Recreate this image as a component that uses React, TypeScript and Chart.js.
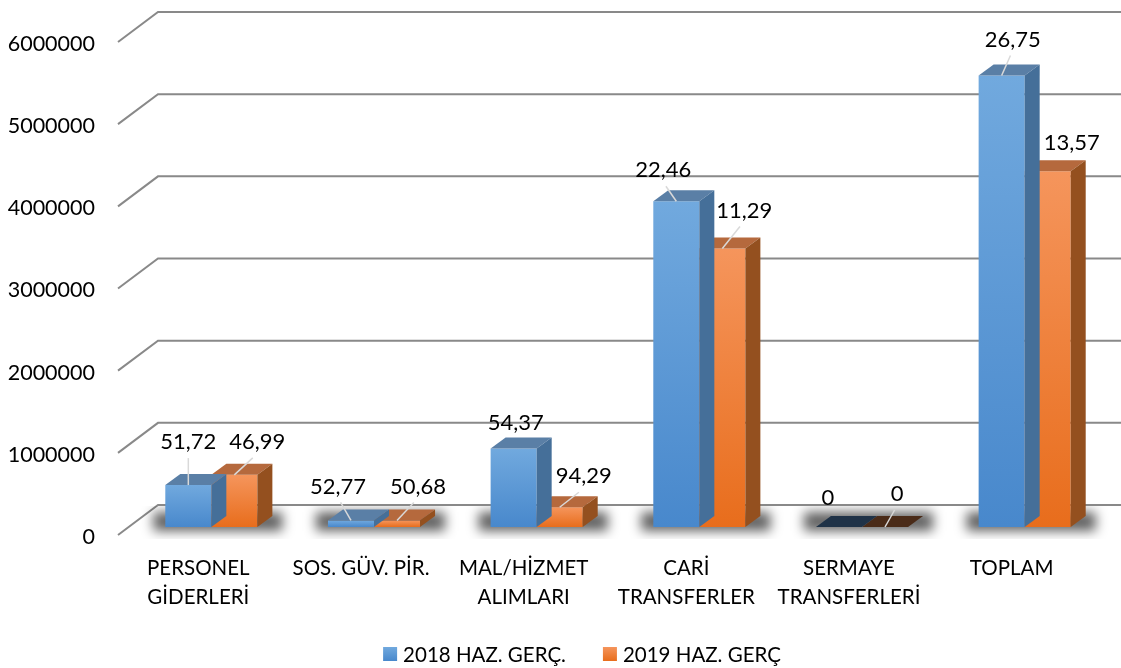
import React, { useEffect, useRef } from 'react';
import { Chart, registerables } from 'chart.js';

Chart.register(...registerables);

// ---- data ----
const categories: string[][] = [
  ['PERSONEL', 'GİDERLERİ'],
  ['SOS. GÜV. PİR.'],
  ['MAL/HİZMET', 'ALIMLARI'],
  ['CARİ', 'TRANSFERLER'],
  ['SERMAYE', 'TRANSFERLERİ'],
  ['TOPLAM'],
];
const seriesNames = ['2018 HAZ. GERÇ.', '2019 HAZ. GERÇ'];
const values2018 = [510000, 80000, 955000, 3965000, 0, 5495000];
const values2019 = [635000, 80000, 240000, 3390000, 0, 4330000];
const labels2018 = ['51,72', '52,77', '54,37', '22,46', '0', '26,75'];
const labels2019 = ['46,99', '50,68', '94,29', '11,29', '0', '13,57'];
const yTicks = [0, 1000000, 2000000, 3000000, 4000000, 5000000, 6000000];

// ---- label placement (relative to bar top centre) ----
const nudge2018 = [[0, -43], [-13, -34], [2, -26], [-13, -31], [-11, -29], [11, -36]];
const nudge2019 = [[23, -33], [21, -34], [24, -31], [22, -38], [12, -33], [24, -28]];
const leader2018 = [true, true, false, true, false, true];
const leader2019 = [true, true, true, true, true, false];

const FONT = 'Lato, "Open Sans", sans-serif';
const DX = 15;
const DY = -11;
const FRONT_DY = 8;
const BACK_DY = -22;
const FRONT_X = 118;
const BACK_X = 158;

const frontLight = ['#71a9de', '#f5955c'];
const frontDark = ['#4888cc', '#e86d1c'];
const topColor = ['#5a7fa6', '#b5693d'];
const sideColor = ['#456f99', '#94501f'];
const zeroTop = ['#1f3247', '#4a2b18'];

const ok = (...n: number[]) => n.every((v) => Number.isFinite(v));

export default function App() {
  const ref = useRef<HTMLCanvasElement>(null);

  useEffect(() => {
    document.body.style.margin = '0';
    const canvas = ref.current!;
    const allValues = [values2018, values2019];
    const allLabels = [labels2018, labels2019];
    const allNudges = [nudge2018, nudge2019];
    const allLeaders = [leader2018, leader2019];

    const grad = (i: number) => (c: any) => {
      const chart = c.chart;
      const y = chart.scales && chart.scales.y;
      if (!y || c.raw == null) return frontDark[i];
      const t = y.getPixelForValue(c.raw);
      const b = y.getPixelForValue(0);
      if (!ok(t, b) || b - t < 1) return frontDark[i];
      const g = chart.ctx.createLinearGradient(0, t, 0, b);
      g.addColorStop(0, frontLight[i]);
      g.addColorStop(1, frontDark[i]);
      return g;
    };

    const threeD = {
      id: 'threeD',
      beforeDatasetsDraw(chart: any) {
        const { ctx } = chart;
        const y = chart.scales.y;
        ctx.save();
        ctx.strokeStyle = '#898989';
        ctx.lineWidth = 2;
        yTicks.forEach((v) => {
          const p = y.getPixelForValue(v);
          ctx.beginPath();
          ctx.moveTo(FRONT_X, p + FRONT_DY);
          ctx.lineTo(BACK_X, p + BACK_DY);
          ctx.lineTo(chart.width, p + BACK_DY);
          ctx.stroke();
        });
        ctx.restore();

        // floor shadows
        const base = y.getPixelForValue(0);
        ctx.save();
        ctx.beginPath();
        ctx.rect(FRONT_X + 10, base + BACK_DY + 1, chart.width, FRONT_DY - BACK_DY + 3);
        ctx.clip();
        ctx.filter = 'blur(6px)';
        ctx.fillStyle = 'rgba(0,0,0,0.62)';
        const m0 = chart.getDatasetMeta(0);
        const m1 = chart.getDatasetMeta(1);
        m0.data.forEach((bar: any, i: number) => {
          const b1 = m1.data[i];
          const x0 = bar.x - bar.width / 2;
          const x1 = b1.x + b1.width / 2 + DX;
          if (ok(x0, x1)) ctx.fillRect(x0 - 12, base - 15, x1 - x0 + 22, 19);
        });
        ctx.restore();
      },
      afterDatasetDraw(chart: any, args: any) {
        const { ctx } = chart;
        const i = args.index;
        const meta = args.meta;
        const vals = allValues[i];
        ctx.save();
        meta.data.forEach((bar: any, j: number) => {
          const { x, y: top, base, width } = bar.getProps(['x', 'y', 'base', 'width'], true);
          if (!ok(x, top, base, width)) return;
          const l = x - width / 2;
          const r = x + width / 2;
          const zero = vals[j] === 0;
          ctx.fillStyle = zero ? zeroTop[i] : topColor[i];
          ctx.beginPath();
          ctx.moveTo(l, top);
          ctx.lineTo(r, top);
          ctx.lineTo(r + DX, top + DY);
          ctx.lineTo(l + DX, top + DY);
          ctx.closePath();
          ctx.fill();
          if (!zero) {
            ctx.fillStyle = sideColor[i];
            ctx.beginPath();
            ctx.moveTo(r, top);
            ctx.lineTo(r + DX, top + DY);
            ctx.lineTo(r + DX, base + DY);
            ctx.lineTo(r, base);
            ctx.closePath();
            ctx.fill();
          }
        });
        ctx.restore();
      },
      afterDraw(chart: any) {
        const { ctx } = chart;
        ctx.save();
        ctx.font = `22px ${FONT}`;
        ctx.textBaseline = 'middle';
        ctx.textAlign = 'center';
        [0, 1].forEach((i) => {
          const meta = chart.getDatasetMeta(i);
          meta.data.forEach((bar: any, j: number) => {
            const { x, y: top } = bar.getProps(['x', 'y'], true);
            if (!ok(x, top)) return;
            const [nx, ny] = allNudges[i][j];
            const lx = x + nx;
            const ly = top + ny;
            if (allLeaders[i][j]) {
              ctx.strokeStyle = '#d9d9d9';
              ctx.lineWidth = 1.5;
              ctx.beginPath();
              ctx.moveTo(x, top);
              ctx.lineTo(lx + (x - lx) * 0.2, ly + 16);
              ctx.stroke();
            }
            ctx.fillStyle = '#000';
            ctx.fillText(allLabels[i][j], lx, ly);
          });
        });

        // legend
        ctx.font = `20.5px ${FONT}`;
        const gap = 37;
        const box = 14;
        const tgap = 6;
        const widths = seriesNames.map((s) => box + tgap + ctx.measureText(s).width);
        const total = widths[0] + gap + widths[1];
        let lx = 582 - total / 2;
        const ly = 654;
        ctx.textAlign = 'left';
        seriesNames.forEach((s, i) => {
          const g = ctx.createLinearGradient(0, ly - box / 2, 0, ly + box / 2);
          g.addColorStop(0, frontLight[i]);
          g.addColorStop(1, frontDark[i]);
          ctx.fillStyle = g;
          ctx.fillRect(lx, ly - box / 2, box, box);
          ctx.fillStyle = '#000';
          ctx.fillText(s, lx + box + tgap, ly + 1);
          lx += widths[i] + gap;
        });
        ctx.restore();
      },
    };

    const chart = new Chart(canvas, {
      type: 'bar',
      data: {
        labels: categories,
        datasets: [
          {
            label: seriesNames[0],
            data: values2018,
            backgroundColor: grad(0),
            borderWidth: 0,
            categoryPercentage: 0.566,
            barPercentage: 1,
          },
          {
            label: seriesNames[1],
            data: values2019,
            backgroundColor: grad(1),
            borderWidth: 0,
            categoryPercentage: 0.566,
            barPercentage: 1,
          },
        ],
      },
      options: {
        responsive: false,
        animation: false,
        devicePixelRatio: 1,
        layout: { padding: { top: 34, right: 15, left: 0, bottom: 0 } },
        plugins: {
          legend: { display: false },
          tooltip: { enabled: false },
        },
        scales: {
          x: {
            grid: { display: false, drawTicks: false },
            border: { display: false },
            ticks: {
              color: '#000',
              font: { family: FONT, size: 20.5, lineHeight: 1.42 },
              padding: 27,
              labelOffset: -13,
              maxRotation: 0,
              minRotation: 0,
              autoSkip: false,
            },
            afterFit: (s: any) => {
              s.height = 141;
              s.paddingLeft = 0;
              s.paddingRight = 0;
            },
          },
          y: {
            min: 0,
            max: 6000000,
            grid: { display: false, drawTicks: false },
            border: { display: false },
            ticks: {
              color: '#000',
              font: { family: FONT, size: 21.5 },
              padding: 35,
              labelOffset: 10,
              callback: (v: any) => String(v),
            },
            afterBuildTicks: (s: any) => {
              s.ticks = yTicks.map((v) => ({ value: v }));
            },
            afterFit: (s: any) => {
              s.width = 130;
              s.paddingTop = 0;
              s.paddingBottom = 0;
            },
          },
        },
      },
      plugins: [threeD],
    });

    return () => chart.destroy();
  }, []);

  return (
    <div style={{ width: 1121, height: 668, background: '#fff' }}>
      <canvas ref={ref} width={1121} height={668} />
    </div>
  );
}
